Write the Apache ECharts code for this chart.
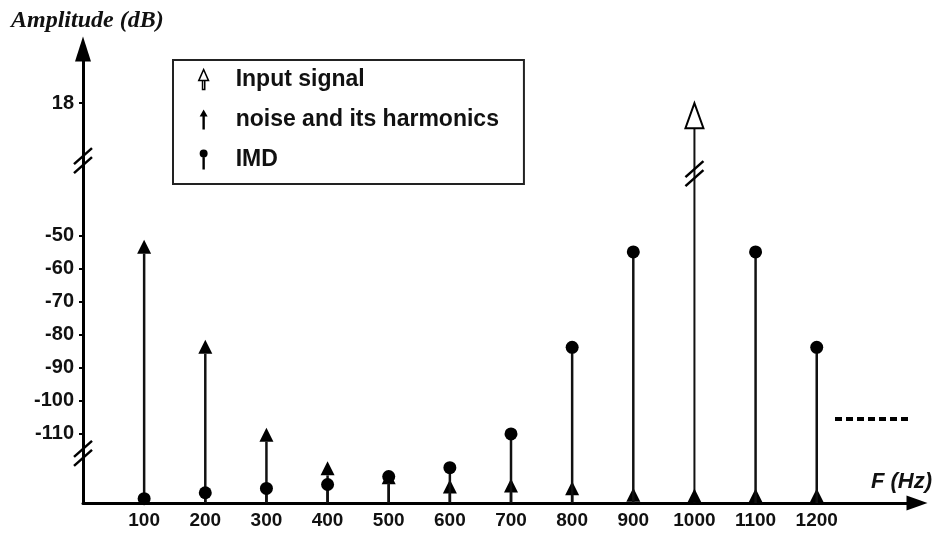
<!DOCTYPE html>
<html>
<head>
<meta charset="utf-8">
<script src="https://cdn.jsdelivr.net/npm/echarts@6/dist/echarts.min.js"></script>
<style>html,body{margin:0;padding:0;background:#fff}#c{width:936px;height:535px}</style>
</head>
<body>
<div id="c"></div>
<script>
// ---- data ----
const X_TICKS = [100, 200, 300, 400, 500, 600, 700, 800, 900, 1000, 1100, 1200];
const Y_LABELS_DB = [18, -50, -60, -70, -80, -90, -100, -110];

const noiseFreq = [100, 200, 300, 400, 500, 600, 700, 800, 900, 1000, 1100, 1200];
const noiseAmp  = [-51.3, -81.6, -108.2, -118.4, -121.1, -123.9, -123.6, -124.4, -126.4, -126.6, -126.6, -126.6];

const imdFreq = [100, 200, 300, 400, 500, 600, 700, 800, 900, 1100, 1200];
const imdAmp  = [-129.7, -127.9, -126.6, -125.4, -123.0, -120.3, -110.1, -83.9, -55.0, -55.0, -83.9];

const inputFreq = [1000];
const inputAmp  = [18];

const breakFreq = [0, 0, 1000];
const breakAmp  = [-27.4, -116, -31.3];

const Y_MIN = -131, Y_MAX = 6.4, X_MIN = 0, X_MAX = 1364;

// broken axis: the upper section (18 dB) is shifted down by 28
function toAxis(db) { return db >= 0 ? db - 28 : db; }
function fromAxis(a) { return a > -28.5 ? Math.round(a + 28) : Math.round(a); }

const FONT = '"Liberation Sans", Arial, sans-serif';

function stemRender(kind) {
  return function (params, api) {
    const f = api.value(0), a = api.value(1);
    const p = api.coord([f, a]);
    const b = api.coord([f, Y_MIN]);
    const ch = [];
    if (kind === 'noise') {
      const h = 14, w = 14;
      ch.push({type: 'line', shape: {x1: b[0], y1: b[1], x2: p[0], y2: p[1] + h}, style: {stroke: '#111', lineWidth: 2.5}});
      ch.push({type: 'polygon', shape: {points: [[p[0], p[1]], [p[0] - w / 2, p[1] + h], [p[0] + w / 2, p[1] + h]]}, style: {fill: '#000'}});
    } else if (kind === 'imd') {
      ch.push({type: 'line', shape: {x1: b[0], y1: b[1], x2: p[0], y2: p[1]}, style: {stroke: '#111', lineWidth: 2.5}});
      ch.push({type: 'circle', shape: {cx: p[0], cy: p[1], r: 6.5}, style: {fill: '#000'}});
    } else {
      const h = 25, w = 18;
      ch.push({type: 'line', shape: {x1: b[0], y1: b[1], x2: p[0], y2: p[1] + h}, style: {stroke: '#111', lineWidth: 2}});
      ch.push({type: 'polygon', shape: {points: [[p[0], p[1]], [p[0] - w / 2, p[1] + h], [p[0] + w / 2, p[1] + h]]}, style: {fill: '#fff', stroke: '#000', lineWidth: 2}});
    }
    return {type: 'group', children: ch};
  };
}

function breakRender(params, api) {
  const p = api.coord([api.value(0), api.value(1)]);
  const ch = [];
  [-4.5, 4.5].forEach(function (d) {
    ch.push({type: 'line', shape: {x1: p[0] - 9, y1: p[1] + d + 8, x2: p[0] + 9, y2: p[1] + d - 8},
      style: {stroke: '#000', lineWidth: 2.5}});
  });
  return {type: 'group', children: ch};
}

const yTickVals = Y_LABELS_DB.map(toAxis);

const chart = echarts.init(document.getElementById('c'), null, {renderer: 'canvas'});
chart.setOption({
  backgroundColor: '#fff',
  animation: false,
  title: [
    {text: 'Amplitude (dB)', left: 11, top: 9, padding: 0,
      textStyle: {fontFamily: '"Liberation Serif", "Times New Roman", serif', fontStyle: 'italic', fontWeight: 'bold', fontSize: 24, color: '#111'}},
    {text: 'F (Hz)', right: 4, top: 471, padding: 0,
      textStyle: {fontFamily: FONT, fontStyle: 'italic', fontWeight: 'bold', fontSize: 22, color: '#111'}}
  ],
  grid: {left: 83, right: 19, top: 49, bottom: 32, containLabel: false},
  legend: {
    orient: 'vertical', left: 173, top: 60,
    padding: [8, 25, 13, 25],
    itemWidth: 10, itemHeight: 20, itemGap: 17,
    borderColor: '#222', borderWidth: 2,
    selectedMode: false,
    textStyle: {fontFamily: FONT, fontSize: 23, fontWeight: 'bold', color: '#111', padding: [0, 0, 0, 22]},
    data: [
      {name: 'Input signal', icon: 'path://M5,0 L0.6,10 L9.4,10 Z M4,10 L6,10 L6,18 L4,18 Z',
        itemStyle: {color: '#fff', borderColor: '#000', borderWidth: 1.5}},
      {name: 'noise and its harmonics', icon: 'path://M4,0 L0,7 L8,7 Z M2.8,7 L5.2,7 L5.2,20 L2.8,20 Z',
        itemStyle: {color: '#000'}},
      {name: 'IMD', icon: 'path://M0,4 A4,4 0 1,1 8,4 A4,4 0 1,1 0,4 Z M2.8,6 L5.2,6 L5.2,20 L2.8,20 Z',
        itemStyle: {color: '#000'}}
    ]
  },
  xAxis: {
    type: 'value', min: X_MIN, max: X_MAX,
    axisLine: {show: true, onZero: false, lineStyle: {color: '#000', width: 3}, symbol: ['none', 'triangle'], symbolSize: [15, 21]},
    axisTick: {show: false},
    splitLine: {show: false},
    axisLabel: {customValues: X_TICKS, formatter: function (v) { return String(v); }, margin: 8, fontFamily: FONT, fontSize: 19, fontWeight: 'bold', color: '#111'}
  },
  yAxis: {
    type: 'value', min: Y_MIN, max: Y_MAX,
    axisLine: {show: true, onZero: false, lineStyle: {color: '#000', width: 3}, symbol: ['none', 'triangle'], symbolSize: [16, 25]},
    axisTick: {show: true, customValues: yTickVals, length: 4, lineStyle: {color: '#000', width: 2}},
    splitLine: {show: false},
    axisLabel: {customValues: yTickVals, formatter: function (v) { return String(fromAxis(v)); },
      margin: 9, fontFamily: FONT, fontSize: 20, fontWeight: 'bold', color: '#111'}
  },
  series: [
    {name: 'Input signal', type: 'custom', renderItem: stemRender('input'), itemStyle: {color: '#000'},
      encode: {x: 0, y: 1}, data: inputFreq.map(function (f, i) { return [f, toAxis(inputAmp[i])]; }), z: 3},
    {name: 'noise and its harmonics', type: 'custom', renderItem: stemRender('noise'), itemStyle: {color: '#000'},
      encode: {x: 0, y: 1}, data: noiseFreq.map(function (f, i) { return [f, toAxis(noiseAmp[i])]; }), z: 3},
    {name: 'IMD', type: 'custom', renderItem: stemRender('imd'), itemStyle: {color: '#000'},
      encode: {x: 0, y: 1}, data: imdFreq.map(function (f, i) { return [f, toAxis(imdAmp[i])]; }), z: 4},
    {name: 'breaks', type: 'custom', renderItem: breakRender, clip: false, silent: true,
      encode: {x: 0, y: 1}, data: breakFreq.map(function (f, i) { return [f, breakAmp[i]]; }), z: 5}
  ],
  graphic: [
    {type: 'line', shape: {x1: 835, y1: 419, x2: 912, y2: 419}, style: {stroke: '#000', lineWidth: 4, lineDash: [7, 4]}}
  ]
});
</script>
</body>
</html>
